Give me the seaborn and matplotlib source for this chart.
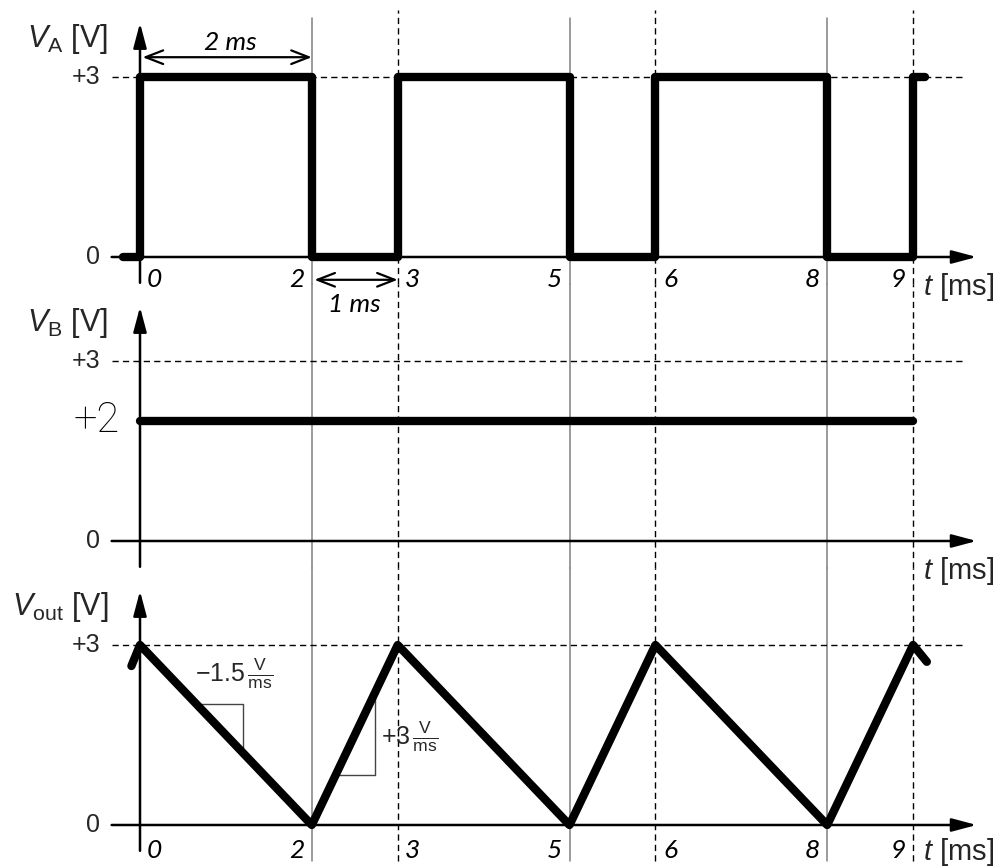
import matplotlib
matplotlib.use("Agg")
import matplotlib.pyplot as plt
import pandas as pd
import seaborn as sns

# Waveforms: time in ms, voltage in V
va_t = [-0.2, 0, 2, 3, 5, 6, 8, 9, 9.14]
va_v = [0, 3, 0, 3, 0, 3, 0, 3, 3]
vb_t = [0, 9]
vb_v = [2, 2]
vout_t = [-0.1, 0, 2, 3, 5, 6, 8, 9, 9.16]
vout_v = [2.65, 3, 0, 3, 0, 3, 0, 3, 2.72]

v_high = 3
switch_low = [2, 5, 8]      # A goes low (solid guides)
switch_high = [3, 6, 9]     # A goes high (dashed guides)
time_ticks = [0, 2, 3, 5, 6, 8, 9]
time_labels = ["0", "2", "3", "5", "6", "8", "9"]
label_side = [1, -1, 1, -1, 1, -1, -1]
panel_labels = [r"$V_\mathrm{A}$ [V]", r"$V_\mathrm{B}$ [V]", r"$V_\mathrm{out}$ [V]"]
slope_down, slope_up = -1.5, 3

sns.set_style("white")
plt.rcParams["font.family"] = ["Liberation Sans", "DejaVu Sans"]
plt.rcParams["mathtext.fontset"] = "custom"
plt.rcParams["mathtext.rm"] = "Liberation Sans"
plt.rcParams["mathtext.it"] = "Liberation Sans:italic"
plt.rcParams["mathtext.bf"] = "Liberation Sans:bold"

W, H = 1007, 867
fig = plt.figure(figsize=(W / 100, H / 100), dpi=100)
axes = fig.subplots(3, 1, sharex=True,
                    gridspec_kw=dict(left=0, right=1, top=1, bottom=15 / H, hspace=0))

px_per_ms = 85.9
px_per_v = 60.0
hand = dict(family=["Lato", "DejaVu Sans"], weight="normal", color="k")
axis_arrow = dict(arrowstyle="-|>,head_length=0.75,head_width=0.2", lw=1.8,
                  color="k", shrinkA=0, shrinkB=0, mutation_scale=20)

for i, ax in enumerate(axes):
    ax.set_xlim(-140 / px_per_ms, (W - 140) / px_per_ms)
    ax.set_ylim(-27 / px_per_v, 257 / px_per_v)
    ax.set_axis_off()

    # vertical guides at the switching instants
    bot = -0.03 if i == 2 else 0
    top_s = 0.935 if i == 0 else 1
    top_d = 0.965 if i == 0 else 1
    for t in switch_low:
        ax.axvline(t, ymin=bot, ymax=top_s, color="#808080", lw=1.1,
                   clip_on=False, zorder=1)
    for t in switch_high:
        ax.axvline(t, ymin=bot, ymax=top_d, color="k", lw=1.0,
                   ls=(0, (4.5, 3)), clip_on=False, zorder=1)

    # +3 V reference
    ax.hlines(v_high, -0.33, 9.6, color="k", lw=1.0, ls=(0, (4.5, 3)), zorder=1)

    # axes drawn as arrows
    ax.annotate("", xy=(9.74, 0), xytext=(-0.33, 0), arrowprops=axis_arrow,
                annotation_clip=False)
    ax.annotate("", xy=(0, 3.9), xytext=(0, -0.43), arrowprops=axis_arrow,
                annotation_clip=False)

    ax.text(-0.46, v_high, "+3", ha="right", va="center", fontsize=18)
    ax.text(-0.46, 0, "0", ha="right", va="center", fontsize=18)
    ax.text(-0.37, 3.63, panel_labels[i], ha="right", va="center", fontsize=22)
    ty = -0.45 if i == 2 else -0.5
    ax.text(9.12, ty, r"$t$ [ms]", ha="left", va="center", fontsize=21,
            clip_on=False)

# V_A: square wave
df_a = pd.DataFrame({"t": va_t, "v": va_v})
sns.lineplot(data=df_a, x="t", y="v", ax=axes[0], color="k", lw=6,
             estimator=None, sort=False, drawstyle="steps-post", legend=False,
             zorder=3)

# V_B: constant level
df_b = pd.DataFrame({"t": vb_t, "v": vb_v})
sns.lineplot(data=df_b, x="t", y="v", ax=axes[1], color="k", lw=6,
             estimator=None, sort=False, legend=False, zorder=3)

# V_out: triangle wave
df_o = pd.DataFrame({"t": vout_t, "v": vout_v})
sns.lineplot(data=df_o, x="t", y="v", ax=axes[2], color="k", lw=6,
             estimator=None, sort=False, legend=False, zorder=3)

for ax in axes:
    ax.set_xlabel("")
    ax.set_ylabel("")

# handwritten time marks
for ax, yv in ((axes[0], -0.38), (axes[2], -0.42)):
    for t, lab, side in zip(time_ticks, time_labels, label_side):
        ax.text(t + side * 0.17, yv, lab, ha="center", va="center",
                fontsize=19, style="italic", clip_on=False, **hand)

# interval annotations on V_A
dbl = dict(arrowstyle="<->,head_length=0.9,head_width=0.35", lw=1.6, color="k",
           shrinkA=0, shrinkB=0, mutation_scale=14)
axes[0].annotate("", xy=(2.0, 3.33), xytext=(0.03, 3.33), arrowprops=dbl)
axes[0].text(1.05, 3.58, "2 ms", ha="center", va="center", fontsize=19,
             style="italic", **hand)
axes[0].annotate("", xy=(3.0, -0.38), xytext=(2.03, -0.38), arrowprops=dbl,
                 annotation_clip=False)
axes[0].text(2.5, -0.8, "1 ms", ha="center", va="center", fontsize=19,
             style="italic", clip_on=False, **hand)

# V_B level
axes[1].text(-0.5, vb_v[0], "+2", ha="center", va="center", fontsize=30,
             family=["Roboto", "DejaVu Sans"], weight="light", color="k")

# slope triangles on V_out
ax = axes[2]
t0, t1 = 0.65, 1.2
v0 = v_high + slope_down * t0
v1 = v_high + slope_down * t1
ax.plot([t0, t1, t1], [v0, v0, v1], color="#444444", lw=1.0, zorder=2)
ax.text(0.64, 2.52, r"$-1.5\,\frac{\mathrm{V}}{\mathrm{ms}}$", ha="left",
        va="center", fontsize=18)

t0, t1 = 2.28, 2.74
v0 = slope_up * (t0 - 2)
v1 = slope_up * (t1 - 2)
ax.plot([t0, t1, t1], [v0, v0, v1], color="#444444", lw=1.0, zorder=2)
ax.text(2.8, 1.47, r"$+3\,\frac{\mathrm{V}}{\mathrm{ms}}$", ha="left",
        va="center", fontsize=18)

fig.savefig("out.png", dpi=100)
